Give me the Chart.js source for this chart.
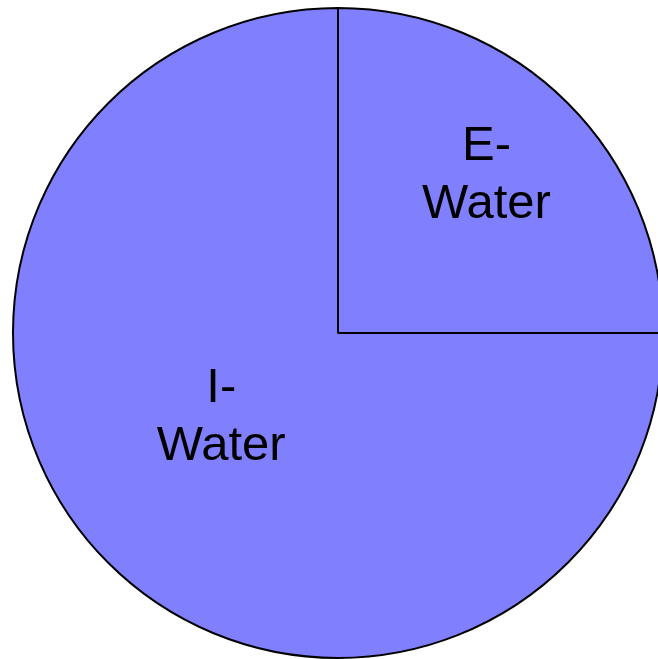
<!DOCTYPE html>
<html>
<head>
<meta charset="utf-8">
<script src="https://cdn.jsdelivr.net/npm/chart.js@4"></script>
<style>
  html, body { margin: 0; padding: 0; background: #fff; overflow: hidden; width: 658px; height: 659px; }
  #wrap { position: absolute; left: 10px; top: 5px; width: 656px; height: 656px; }
</style>
</head>
<body>
<div id="wrap"><canvas id="myChart"></canvas></div>
<script>
const labels = ['E-Water', 'I-Water']
const values = [25, 75]
// label lines as drawn on the slices
const labelLines = [['E-', 'Water'], ['I-', 'Water']]

// where the text sits, as angle (deg, canvas coords) and fraction of radius
const labelSpots = [
    { angle: -46.6, dist: 0.665 },
    { angle: 144.2, dist: 0.443 }
]

const sliceLabels = {
    id: 'sliceLabels',
    afterDatasetsDraw(chart) {
        const ctx = chart.ctx
        const arcs = chart.getDatasetMeta(0).data
        ctx.save()
        ctx.fillStyle = '#000'
        ctx.font = '49px "Liberation Sans", Arial, sans-serif'
        ctx.textAlign = 'center'
        ctx.textBaseline = 'middle'
        arcs.forEach((arc, i) => {
            const spot = labelSpots[i]
            const a = spot.angle * Math.PI / 180
            const x = arc.x + Math.cos(a) * arc.outerRadius * spot.dist
            const y = arc.y + Math.sin(a) * arc.outerRadius * spot.dist
            const lines = labelLines[i]
            const lh = 58
            lines.forEach((line, j) => {
                ctx.fillText(line, x, y + (j - (lines.length - 1) / 2) * lh)
            })
        })
        ctx.restore()
    }
}

new Chart(document.getElementById('myChart'), {
    type: 'pie',
    data: {
        labels: labels,
        datasets: [{
            data: values,
            backgroundColor: '#8080FF',
            borderColor: '#000',
            borderWidth: 2
        }]
    },
    options: {
        responsive: true,
        maintainAspectRatio: false,
        animation: false,
        layout: { padding: 2 },
        plugins: {
            legend: { display: false },
            tooltip: { enabled: false }
        }
    },
    plugins: [sliceLabels]
})
</script>
</body>
</html>
